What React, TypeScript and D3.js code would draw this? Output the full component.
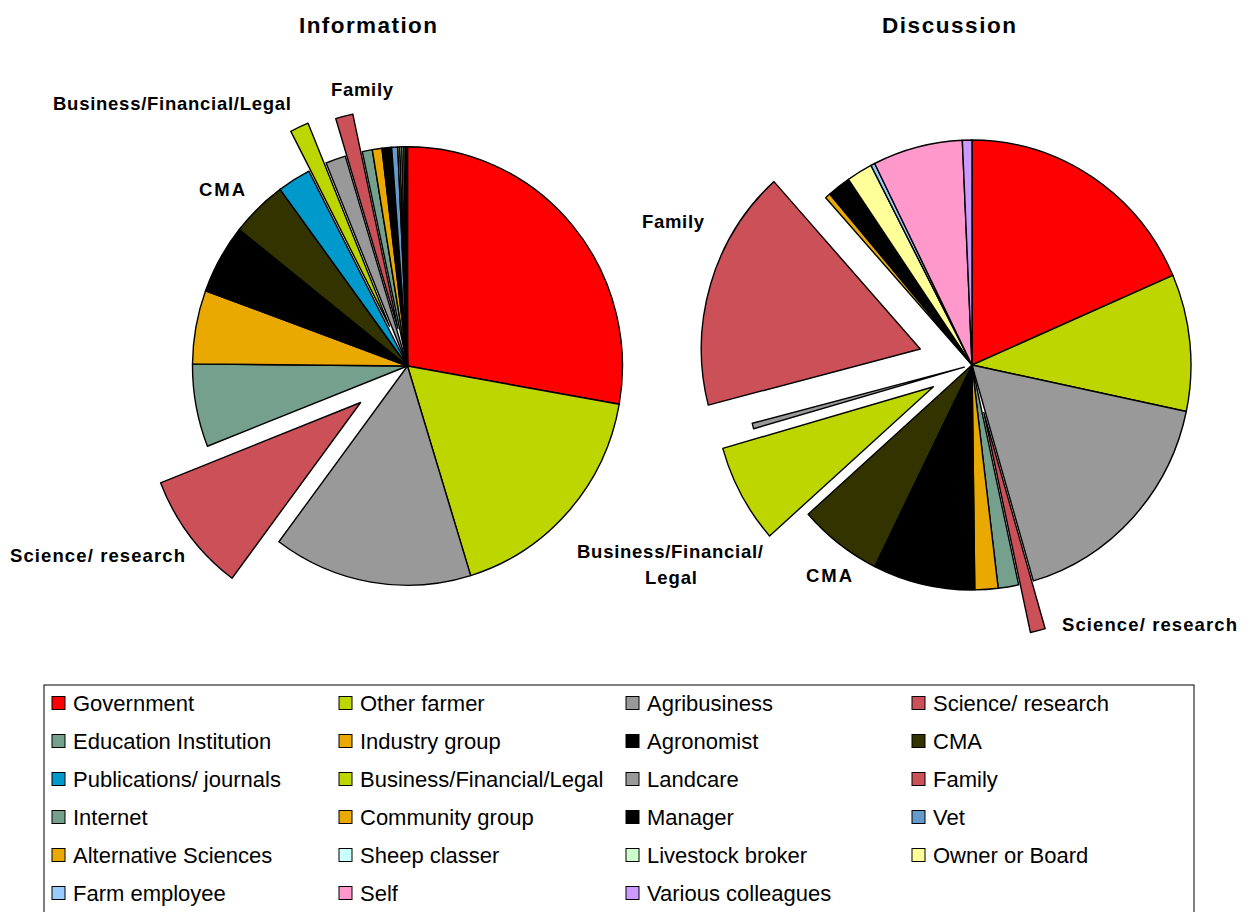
import React from "react";
import * as d3 from "d3";

const categories = [
  "Government", "Other farmer", "Agribusiness", "Science/ research",
  "Education Institution", "Industry group", "Agronomist", "CMA",
  "Publications/ journals", "Business/Financial/Legal", "Landcare", "Family",
  "Internet", "Community group", "Manager", "Vet",
  "Alternative Sciences", "Sheep classer", "Livestock broker", "Owner or Board",
  "Farm employee", "Self", "Various colleagues",
];

const informationValues = [
  27.7, 17.4, 14.9, 8.8, 6.1, 5.4, 5.1, 4.2, 2.5, 1.4, 1.5, 1.3,
  0.75, 0.72, 0.72, 0.45, 0.15, 0.15, 0.15, 0.12, 0.1, 0, 0.05,
];

const discussionValues = [
  18.4, 9.8, 17.1, 1.1, 1.5, 1.7, 7.5, 6.1, 0, 7.1, 0.4, 17.3,
  0, 0.4, 1.7, 0, 0, 0, 0, 1.9, 0.3, 6.6, 0.7,
];

const colors = [
  "#FF0000", "#BED600", "#999999", "#CC5058",
  "#76A08E", "#E9A900", "#000000", "#333300",
  "#0099CC", "#BED600", "#999999", "#CC5058",
  "#76A08E", "#E9A900", "#000000", "#6699CC",
  "#E9A900", "#CCFFFF", "#CCFFCC", "#FFFF99",
  "#99CCFF", "#FF99CC", "#CC99FF",
];

const informationExplode: Record<string, number> = {
  "Science/ research": 59,
  "Business/Financial/Legal": 43,
  "Family": 38,
};
const discussionExplode: Record<string, number> = {
  "Science/ research": 48,
  "Business/Financial/Legal": 44,
  "Landcare": 8,
  "Family": 54,
};

const FONT = "'Liberation Sans', Arial, Helvetica, sans-serif";

type PieProps = {
  values: number[];
  explode: Record<string, number>;
  cx: number;
  cy: number;
  r: number;
  ky: number;
};

function Pie({ values, explode, cx, cy, r, ky }: PieProps) {
  const data = categories.map((c, i) => ({ name: c, value: values[i], color: colors[i] }));
  const pie = d3
    .pie<{ name: string; value: number; color: string }>()
    .sort(null)
    .value((d) => d.value)
    .startAngle(0)
    .endAngle(2 * Math.PI);
  const arcs = pie(data).filter((a) => a.data.value > 0);
  const arc = d3
    .arc<d3.PieArcDatum<{ name: string; value: number; color: string }>>()
    .innerRadius(0)
    .outerRadius(r);
  return (
    <g transform={`translate(${cx},${cy}) scale(1,${ky})`}>
      {arcs.map((a) => {
        const off = explode[a.data.name] || 0;
        const mid = (a.startAngle + a.endAngle) / 2;
        const dx = Math.sin(mid) * off;
        const dy = -Math.cos(mid) * off;
        return (
          <path
            key={a.data.name}
            d={arc(a) || ""}
            transform={`translate(${dx},${dy})`}
            fill={a.data.color}
            stroke="#000"
            strokeWidth={1.4}
            strokeLinejoin="round"
          />
        );
      })}
    </g>
  );
}

type Label = { text: string; x: number; y: number; w: number };

const infoLabels: Label[] = [
  { text: "Business/Financial/Legal", x: 53, y: 110, w: 238 },
  { text: "Family", x: 331, y: 96, w: 62 },
  { text: "CMA", x: 199, y: 196, w: 46 },
  { text: "Science/ research", x: 10, y: 562, w: 175 },
];
const discLabels: Label[] = [
  { text: "Family", x: 642, y: 228, w: 62 },
  { text: "Business/Financial/", x: 577, y: 558, w: 186 },
  { text: "Legal", x: 645, y: 584, w: 52 },
  { text: "CMA", x: 806, y: 582, w: 46 },
  { text: "Science/ research", x: 1062, y: 631, w: 175 },
];

export default function App() {
  const legendCols = 4;
  const colX = [52, 339, 626, 912];
  const rowY0 = 703;
  const rowH = 38;
  const sw = 13;

  return (
    <svg
      width={1254}
      height={912}
      style={{ position: "absolute", left: 0, top: 0, background: "#fff" }}
      fontFamily={FONT}
    >
      <rect x={0} y={0} width={1254} height={912} fill="#fff" />
      <text x={299} y={33} fontSize={22.5} fontWeight="bold" textLength={138} lengthAdjust="spacing">
        Information
      </text>
      <text x={882} y={33} fontSize={22.5} fontWeight="bold" textLength={134} lengthAdjust="spacing">
        Discussion
      </text>

      <Pie values={informationValues} explode={informationExplode} cx={407.5} cy={366} r={215} ky={1.02} />
      <Pie values={discussionValues} explode={discussionExplode} cx={972} cy={365} r={219} ky={1.027} />

      {[...infoLabels, ...discLabels].map((l, i) => (
        <text
          key={i}
          x={l.x}
          y={l.y}
          fontSize={18.5}
          fontWeight="bold"
          textLength={l.w}
          lengthAdjust="spacing"
        >
          {l.text}
        </text>
      ))}

      <rect x={44} y={685} width={1150} height={240} fill="none" stroke="#000" strokeWidth={1} />
      {categories.map((c, i) => {
        const col = i % legendCols;
        const row = Math.floor(i / legendCols);
        const x = colX[col];
        const y = rowY0 + row * rowH;
        return (
          <g key={c}>
            <rect x={x} y={y - sw / 2} width={sw} height={sw} fill={colors[i]} stroke="#000" strokeWidth={1} />
            <text x={x + 21} y={y + 8} fontSize={22}>
              {c}
            </text>
          </g>
        );
      })}
    </svg>
  );
}
